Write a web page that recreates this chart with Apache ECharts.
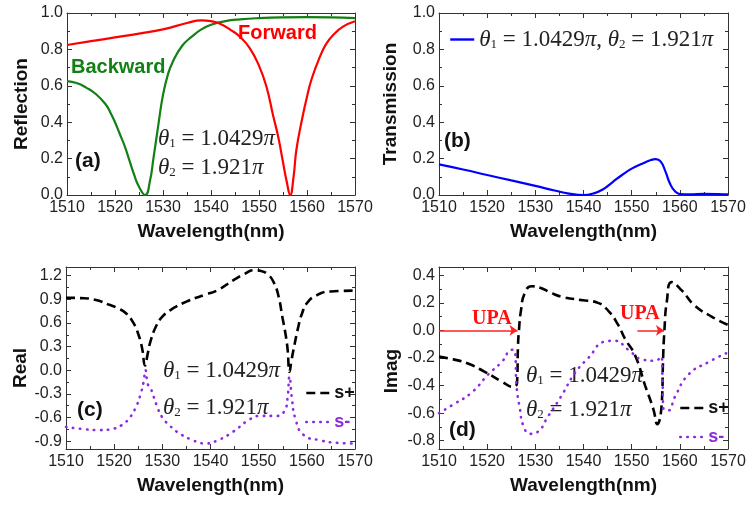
<!DOCTYPE html>
<html>
<head>
<meta charset="utf-8">
<script src="https://cdn.jsdelivr.net/npm/echarts@6/dist/echarts.min.js"></script>
<style>
    html, body { margin: 0; padding: 0; background: #fff; }
    #chart { width: 748px; height: 508px; }
</style>
</head>
<body>
<div id="chart"></div>
<script>
    // (a) reflection
    var backwardX = [1510, 1512, 1514, 1516, 1518, 1519, 1520, 1521, 1522, 1523, 1524, 1525, 1526.3, 1527.3, 1528, 1529, 1530, 1531, 1532, 1534, 1536, 1538, 1540, 1543, 1546, 1550, 1555, 1560, 1565, 1570];
    var backwardY = [0.626, 0.615, 0.59, 0.555, 0.5, 0.455, 0.4, 0.335, 0.27, 0.19, 0.11, 0.045, 0.0, 0.08, 0.2, 0.38, 0.55, 0.66, 0.73, 0.82, 0.87, 0.91, 0.935, 0.955, 0.965, 0.972, 0.976, 0.977, 0.976, 0.972];
    var forwardX = [1510, 1515, 1520, 1525, 1530, 1535, 1538, 1540, 1542, 1544.5, 1546, 1548, 1550, 1551.5, 1553, 1554, 1555, 1555.8, 1556.5, 1557.2, 1557.8, 1559, 1560, 1561, 1562.7, 1564, 1565.5, 1567.5, 1570];
    var forwardY = [0.824, 0.845, 0.866, 0.887, 0.91, 0.945, 0.96, 0.955, 0.94, 0.9, 0.87, 0.81, 0.71, 0.6, 0.43, 0.32, 0.18, 0.07, 0.0, 0.1, 0.25, 0.42, 0.54, 0.64, 0.76, 0.83, 0.88, 0.925, 0.955];

    // (b) transmission
    var transX = [1510, 1515, 1520, 1525, 1530, 1534, 1537, 1540, 1542, 1544, 1546, 1548, 1550, 1552, 1554, 1555, 1556, 1557, 1558, 1559, 1560, 1562, 1565, 1568, 1570];
    var transY = [0.168, 0.14, 0.11, 0.08, 0.05, 0.025, 0.008, 0.0, 0.008, 0.03, 0.07, 0.11, 0.145, 0.17, 0.192, 0.197, 0.185, 0.13, 0.06, 0.02, 0.005, 0.003, 0.006, 0.005, 0.003];

    // (c) real part
    var realPlusX = [1510, 1513, 1516, 1519, 1521, 1522.5, 1524, 1525, 1525.8, 1526.4, 1527, 1527.6, 1528.8, 1530, 1531.6, 1535, 1539, 1541.3, 1544.7, 1547, 1549, 1550.5, 1552, 1553, 1554, 1555, 1555.6, 1556, 1556.4, 1556.8, 1557.2, 1558.3, 1559, 1560, 1562, 1565, 1570];
    var realPlusY = [0.92, 0.915, 0.895, 0.83, 0.78, 0.72, 0.6, 0.46, 0.28, 0.06, 0.22, 0.38, 0.57, 0.68, 0.76, 0.87, 0.96, 1.01, 1.14, 1.22, 1.27, 1.26, 1.21, 1.13, 0.97, 0.65, 0.45, 0.27, -0.02, 0.12, 0.25, 0.57, 0.72, 0.85, 0.95, 1.0, 1.01];
    var realMinusX = [1510, 1514, 1517, 1520, 1521.5, 1523, 1524.5, 1525.5, 1526.1, 1526.5, 1527, 1527.5, 1528, 1528.8, 1530, 1531.5, 1533, 1536, 1539, 1541.5, 1544.7, 1548, 1550.3, 1553.8, 1555.5, 1556, 1556.4, 1556.9, 1557.6, 1559.3, 1562.8, 1566, 1570];
    var realMinusY = [-0.72, -0.75, -0.76, -0.74, -0.7, -0.62, -0.47, -0.3, -0.15, 0.0, -0.18, -0.22, -0.3, -0.44, -0.6, -0.7, -0.78, -0.88, -0.93, -0.89, -0.78, -0.63, -0.58, -0.58, -0.5, -0.35, -0.08, -0.36, -0.61, -0.82, -0.89, -0.92, -0.93];

    // (d) imaginary part
    var imagPlusX = [1510, 1513, 1516, 1519.5, 1523, 1525.4, 1526.2, 1526.4, 1526.6, 1527, 1527.8, 1529.2, 1531, 1533.4, 1536, 1539.6, 1543, 1545.2, 1547.2, 1548.6, 1550.7, 1552.8, 1554.5, 1555.3, 1556.3, 1556.5, 1556.8, 1557.3, 1558.3, 1560.4, 1563.1, 1566.6, 1570];
    var imagPlusY = [-0.19, -0.21, -0.24, -0.3, -0.37, -0.41, -0.38, -0.11, 0.0, 0.14, 0.27, 0.32, 0.31, 0.27, 0.24, 0.22, 0.2, 0.14, 0.04, -0.06, -0.18, -0.4, -0.57, -0.68, -0.5, -0.23, 0.0, 0.21, 0.35, 0.29, 0.18, 0.1, 0.04];
    var imagMinusX = [1510, 1513.3, 1516.8, 1520.2, 1523, 1525.2, 1525.8, 1526.1, 1526.8, 1527.5, 1528.9, 1530.3, 1532.7, 1535.5, 1538.2, 1541, 1544.5, 1546.5, 1549.3, 1552.1, 1554.8, 1556.2, 1556.4, 1556.6, 1557.6, 1559, 1561.8, 1565.9, 1570];
    var imagMinusY = [-0.6, -0.53, -0.45, -0.32, -0.23, -0.14, -0.15, -0.4, -0.57, -0.69, -0.75, -0.74, -0.62, -0.47, -0.31, -0.2, -0.08, -0.075, -0.14, -0.21, -0.22, -0.19, -0.35, -0.57, -0.58, -0.48, -0.32, -0.23, -0.16];
    var upaArrows = [[1510, 1526.3], [1551.2, 1556.7]];

    // tick values
    var unitTicks = [0, 0.2, 0.4, 0.6, 0.8, 1.0];
    var unitMinor = [0.1, 0.3, 0.5, 0.7, 0.9];
    var realTicks = [-0.9, -0.6, -0.3, 0, 0.3, 0.6, 0.9, 1.2];
    var realMinor = [-0.75, -0.45, -0.15, 0.15, 0.45, 0.75, 1.05];
    var imagTicks = [-0.8, -0.6, -0.4, -0.2, 0, 0.2, 0.4];
    var imagMinor = [-0.7, -0.5, -0.3, -0.1, 0.1, 0.3];

    var SANS = 'Liberation Sans, Arial, sans-serif';
    var SERIF = 'Liberation Serif, Times New Roman, serif';
    var frame = '#333';
    var purple = '#8a2be2';

    function pairs(xs, ys) {
        return xs.map(function (x, i) { return [x, ys[i]]; });
    }

    var grids = [
        { left: 67, top: 13, width: 288, height: 182 },
        { left: 439, top: 13, width: 289, height: 182 },
        { left: 66, top: 267, width: 289, height: 182 },
        { left: 439, top: 267, width: 289, height: 182 }
    ];
    grids.forEach(function (g) { g.outerBoundsMode = 'none'; g.containLabel = false; });

    var xAxes = [];
    var yAxes = [];

    function addAxes(g, yMin, yMax, major, minor, yName, yGap, namePad) {
        var line = { onZero: false, lineStyle: { color: frame, width: 1 } };
        ['bottom', 'top'].forEach(function (pos) {
            var bottom = pos === 'bottom';
            xAxes.push({
                gridIndex: g, type: 'value', position: pos,
                min: 1510, max: 1570, interval: 10,
                axisLine: line,
                axisTick: { inside: true, length: 5, lineStyle: { color: frame } },
                minorTick: { show: true, splitNumber: 2, length: 3, lineStyle: { color: frame } },
                splitLine: { show: false },
                axisLabel: {
                    show: bottom, fontSize: 16, color: '#222', margin: 5, fontFamily: SANS,
                    showMinLabel: true, showMaxLabel: true,
                    formatter: function (v) { return String(v); }
                },
                name: bottom ? 'Wavelength(nm)' : '',
                nameLocation: 'middle', nameGap: 27,
                nameTextStyle: { fontSize: 19, fontWeight: 'bold', color: '#111', fontFamily: SANS }
            });
        });
        ['left', 'right'].forEach(function (pos) {
            var left = pos === 'left';
            yAxes.push({
                gridIndex: g, type: 'value', position: pos, min: yMin, max: yMax,
                axisLine: line,
                axisTick: { inside: true, length: 5, customValues: major, lineStyle: { color: frame } },
                splitLine: { show: false },
                axisLabel: {
                    show: left, customValues: major, fontSize: 16, color: '#222', margin: 4, fontFamily: SANS,
                    formatter: function (v) { return (+v).toFixed(1); }
                },
                name: left ? yName : '',
                nameLocation: 'middle', nameGap: yGap,
                nameTextStyle: { fontSize: 19, fontWeight: 'bold', color: '#111', fontFamily: SANS, padding: namePad || 0 }
            });
            yAxes.push({
                gridIndex: g, type: 'value', position: pos, min: yMin, max: yMax,
                axisLine: { show: false, onZero: false },
                axisTick: { inside: true, length: 3, customValues: minor, lineStyle: { color: frame } },
                axisLabel: { show: false },
                splitLine: { show: false }
            });
        });
    }

    addAxes(0, 0, 1, unitTicks, unitMinor, 'Reflection', 36);
    addAxes(1, 0, 1, unitTicks, unitMinor, 'Transmission', 39);
    addAxes(2, -1.0, 1.31, realTicks, realMinor, 'Real', 34, [0, 20, 0, 0]);
    addAxes(3, -0.86, 0.46, imagTicks, imagMinor, 'Imag', 38, [0, 26, 0, 0]);

    function curve(name, g, xs, ys, color, width, dash, cap) {
        return {
            name: name, type: 'line', xAxisIndex: g * 2, yAxisIndex: g * 4,
            data: pairs(xs, ys), showSymbol: false, symbol: 'none',
            smooth: 0.5,
            lineStyle: { color: color, width: width, type: dash || 'solid', cap: cap || 'butt' },
            itemStyle: { color: color },
            silent: true
        };
    }

    var dashed = [9, 5];
    var dotted = [0.5, 6.5];

    var series = [
        curve('Backward', 0, backwardX, backwardY, '#128012', 2.2),
        curve('Forward', 0, forwardX, forwardY, '#ff0000', 2.2),
        curve('theta', 1, transX, transY, '#0000ff', 2.2),
        curve('s+', 2, realPlusX, realPlusY, '#000', 2.6, dashed),
        curve('s-', 2, realMinusX, realMinusY, purple, 2.6, dotted, 'round'),
        curve('s+', 3, imagPlusX, imagPlusY, '#000', 2.6, dashed),
        curve('s-', 3, imagMinusX, imagMinusY, purple, 2.6, dotted, 'round'),
        {
            name: 'UPA', type: 'line', xAxisIndex: 6, yAxisIndex: 12, data: [], silent: true,
            markLine: {
                silent: true, symbol: ['none', 'arrow'], symbolSize: [8, 8],
                label: { show: false },
                lineStyle: { color: '#ff2020', width: 1.5, type: 'solid' },
                data: upaArrows.map(function (a) {
                    return [{ coord: [a[0], 0] }, { coord: [a[1], 0] }];
                })
            }
        }
    ];

    var thetaRich = {
        t: { fontFamily: SERIF, fontStyle: 'italic', fontSize: 23, fill: '#222', color: '#222' },
        s: { fontFamily: SERIF, fontSize: 13, fill: '#222', color: '#222', verticalAlign: 'bottom', padding: [10, 0, 0, 0] },
        n: { fontFamily: SERIF, fontSize: 23, fill: '#222', color: '#222' }
    };
    function thetaLine(x, y, idx, val) {
        return {
            type: 'text', x: x, y: y, silent: true,
            style: {
                text: '{t|θ}{s|' + idx + '}{n| = ' + val + '}{t|π}',
                rich: thetaRich, verticalAlign: 'middle'
            }
        };
    }
    function label(x, y, text, size, color, family) {
        return {
            type: 'text', x: x, y: y, silent: true,
            style: {
                text: text, fontSize: size, fontWeight: 'bold', fill: color,
                fontFamily: family || SANS, verticalAlign: 'middle'
            }
        };
    }

    var graphics = [
        label(71, 67, 'Backward', 20, '#128012'),
        label(238, 33, 'Forward', 20, '#ff0000'),
        label(75, 161, '(a)', 21, '#111'),
        label(444, 141, '(b)', 21, '#111'),
        label(77, 410, '(c)', 21, '#111'),
        label(449, 430, '(d)', 21, '#111'),
        label(472, 319, 'UPA', 20, '#ff1010', SERIF),
        label(620, 314, 'UPA', 20, '#ff1010', SERIF),
        thetaLine(158, 139, 1, '1.0429'),
        thetaLine(158, 168, 2, '1.921'),
        thetaLine(163, 371, 1, '1.0429'),
        thetaLine(163, 408, 2, '1.921'),
        thetaLine(526, 376, 1, '1.0429'),
        thetaLine(526, 410, 2, '1.921')
    ];

    var noSymbol = { opacity: 0, borderWidth: 0 };

    function pmLegend(left, top) {
        return {
            left: left, top: top, orient: 'vertical', itemGap: 11, itemWidth: 26, itemHeight: 12,
            selectedMode: false, itemStyle: noSymbol,
            textStyle: { fontSize: 18, fontWeight: 'bold', fontFamily: SANS, padding: [0, 0, 0, -3] },
            data: [
                { name: 's+', textStyle: { color: '#111' }, itemStyle: noSymbol,
                  lineStyle: { color: '#000', width: 2.6, type: dashed } },
                { name: 's-', textStyle: { color: purple }, itemStyle: noSymbol,
                  lineStyle: { color: purple, width: 2.6, type: dotted, cap: 'round' } }
            ]
        };
    }

    var option = {
        animation: false,
        backgroundColor: '#fff',
        grid: grids,
        xAxis: xAxes,
        yAxis: yAxes,
        legend: [
            {
                left: 444, top: 23, itemWidth: 24, itemHeight: 12, selectedMode: false,
                itemStyle: noSymbol,
                data: [{ name: 'theta', itemStyle: noSymbol, lineStyle: { color: '#0000ff', width: 2.4 } }],
                formatter: function () {
                    return '{t|θ}{s|1}{n| = 1.0429}{t|π}{n|, }{t|θ}{s|2}{n| = 1.921}{t|π}';
                },
                textStyle: { rich: thetaRich }
            },
            pmLegend(300, 379),
            pmLegend(674, 394)
        ],
        graphic: graphics,
        series: series
    };

    var myChart = echarts.init(document.getElementById('chart'));
    myChart.setOption(option);
</script>
</body>
</html>
